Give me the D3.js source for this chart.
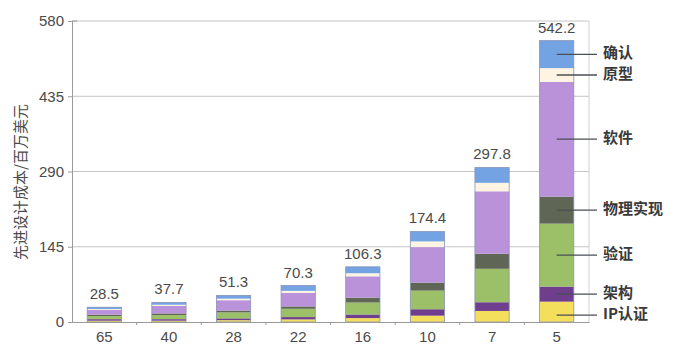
<!DOCTYPE html>
<html><head><meta charset="utf-8">
<script src="https://cdn.jsdelivr.net/npm/d3@7/dist/d3.min.js"></script>
<style>body{margin:0;background:#fff}svg{display:block}</style>
</head><body>
<svg id="c" width="680" height="352"></svg>
<script>
const categories = ["65","40","28","22","16","10","7","5"];
const totals = [28.5, 37.7, 51.3, 70.3, 106.3, 174.4, 297.8, 542.2];
const seriesNames = ["IP认证","架构","验证","物理实现","软件","原型","确认"];
const ipQual     = [2.5, 2.5, 3.5, 5.0, 7.5, 12.2, 21.3, 39.2];
const arch       = [3.0, 3.0, 3.5, 4.5, 7.0, 12.4, 16.8, 29.1];
const verif      = [6.0, 8.0, 11.5, 16.0, 23.0, 35.9, 64.4, 121.2];
const physical   = [2.5, 3.0, 3.5, 4.5, 9.5, 15.5, 29.0, 52.2];
const software   = [9.5, 14.5, 20.0, 26.0, 41.0, 68.4, 120.4, 221.0];
const prototype  = [1.5, 2.2, 3.0, 4.0, 6.0, 10.9, 16.3, 26.5];
const validation = [3.5, 4.5, 6.3, 10.3, 12.3, 19.1, 29.6, 53.0];
const yTicks = [0, 145, 290, 435, 580];
const yTitle = "先进设计成本/百万美元";
const colors = ["#f3df5c","#6f3f8e","#9cc068","#5f6655","#b992d9","#fdf4e2","#74a3e4"];

const seriesVals = [ipQual, arch, verif, physical, software, prototype, validation];
const rows = categories.map((c,i)=>{const o={cat:c}; seriesNames.forEach((s,j)=>o[s]=seriesVals[j][i]); return o;});
const stacked = d3.stack().keys(seriesNames)(rows);

const svg = d3.select("#c");
const L=72, R=589, T=21, B=322;
const x = d3.scaleBand().domain(categories).range([L,R]).paddingInner(0.47).paddingOuter(0.235);
const y = d3.scaleLinear().domain([0,580]).range([B,T]);
const font = "'Liberation Sans', Arial, sans-serif";
const cjk = "'Noto Sans CJK SC', sans-serif";

// gridlines
svg.append("g").selectAll("line").data(yTicks.filter(d=>d>0)).join("line")
  .attr("x1",L).attr("x2",R).attr("y1",d=>y(d)).attr("y2",d=>y(d))
  .attr("stroke","#c4c4c4").attr("stroke-width",1);
// frame right
svg.append("line").attr("x1",R).attr("x2",R).attr("y1",T).attr("y2",B).attr("stroke","#cfcfcf");

// bars
const bw = x.bandwidth();
svg.append("g").selectAll("g").data(stacked).join("g").attr("fill",(d,i)=>colors[i])
  .selectAll("rect").data(d=>d).join("rect")
  .attr("x",d=>x(d.data.cat)).attr("width",bw)
  .attr("y",d=>y(d[1])).attr("height",d=>y(d[0])-y(d[1]));
svg.append("g").selectAll("rect").data(categories).join("rect")
  .attr("x",c=>x(c)).attr("width",bw)
  .attr("y",(c,i)=>y(totals[i])).attr("height",(c,i)=>y(0)-y(totals[i]))
  .attr("fill","none").attr("stroke","#8a93b8").attr("stroke-width",0.8);

// y axis
const ya = svg.append("g").attr("transform",`translate(${L},0)`)
  .call(d3.axisLeft(y).tickValues(yTicks).tickSize(4).tickPadding(4));
ya.select(".domain").attr("stroke","#9a9a9a");
ya.selectAll(".tick line").attr("stroke","#9a9a9a");
ya.selectAll("text").attr("font-family",font).attr("font-size",15).attr("fill","#4a4a4a");
svg.append("line").attr("x1",L).attr("x2",L+5).attr("y1",T).attr("y2",T).attr("stroke","#9a9a9a");

// x axis
const xa = svg.append("g").attr("transform",`translate(0,${B})`)
  .call(d3.axisBottom(x).tickSize(0).tickPadding(9));
xa.select(".domain").attr("stroke","#9a9a9a");
xa.selectAll("text").attr("font-family",font).attr("font-size",15).attr("fill","#4a4a4a");
svg.append("g").selectAll("line").data(categories.slice(1)).join("line")
  .attr("x1",c=>x(c)-x.step()*x.paddingInner()/2).attr("x2",c=>x(c)-x.step()*x.paddingInner()/2)
  .attr("y1",B).attr("y2",B+3).attr("stroke","#9a9a9a");

// value labels
svg.append("g").selectAll("text").data(categories).join("text")
  .attr("x",c=>x(c)+bw/2).attr("y",(c,i)=>y(totals[i])-8)
  .attr("text-anchor","middle").attr("font-family",font).attr("font-size",15).attr("fill","#4a4a4a")
  .text((c,i)=>totals[i].toFixed(1));

// y title
svg.append("text").attr("transform","translate(22,182) rotate(-90)")
  .attr("text-anchor","middle").attr("dominant-baseline","middle")
  .attr("font-family",cjk).attr("font-size",15).attr("fill","#4a4a4a").text(yTitle);

// legend labels with leader lines on last bar
const last = stacked.map(s=>s[s.length-1]);
const lastCat = categories[categories.length-1];
const cx = x(lastCat)+bw/2;
const labelY = last.map(d=>y((d[0]+d[1])/2));
labelY[0] = Math.max(labelY[0], labelY[1]+21);
svg.append("g").selectAll("line").data(last).join("line")
  .attr("x1",cx).attr("x2",597).attr("y1",(d,i)=>labelY[i]).attr("y2",(d,i)=>labelY[i])
  .attr("stroke","#4a4f55").attr("stroke-width",1.3);
svg.append("g").selectAll("text").data(seriesNames).join("text")
  .attr("x",603).attr("y",(d,i)=>labelY[i]).attr("dominant-baseline","middle")
  .attr("font-family",cjk).attr("font-size",15).attr("font-weight",700).attr("fill","#3a3a3a")
  .text(d=>d);
</script>
</body></html>
